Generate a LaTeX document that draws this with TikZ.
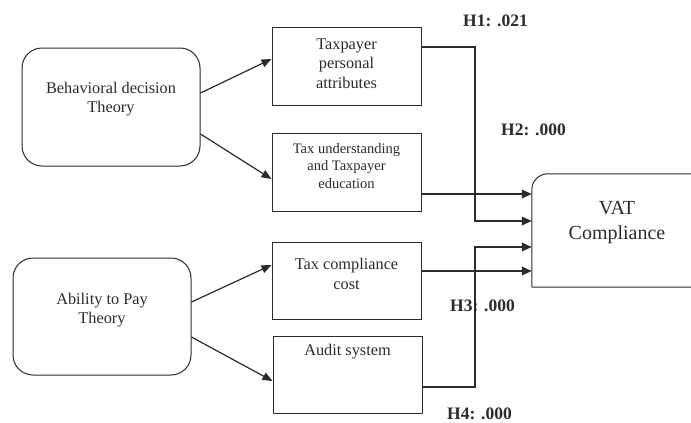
\documentclass[tikz,border=0pt]{standalone}
\usepackage{fontspec}
\setmainfont{Liberation Serif}
\usetikzlibrary{arrows.meta}
\definecolor{ink}{HTML}{2B2B2B}
\tikzset{
  boxline/.style={draw=ink, line width=1pt},
  theorybox/.style={boxline, rounded corners=20pt, inner sep=0pt},
  varbox/.style={boxline, inner sep=0pt},
  txt/.style={align=center, inner sep=0pt, text=ink, font=\fontsize{16.3}{19.5}\selectfont},
  smalltxt/.style={align=center, inner sep=0pt, text=ink, font=\fontsize{14.5}{17.5}\selectfont},
  vattxt/.style={align=center, inner sep=0pt, text=ink, font=\fontsize{20}{25}\selectfont},
  hlab/.style={inner sep=0pt, text=ink, font=\bfseries\fontsize{17.5}{20}\selectfont},
  tharrow/.style={draw=ink, line width=1.2pt, -{Triangle[length=10pt,width=8pt]}},
  harrow/.style={draw=ink, line width=2pt, -{Triangle[length=10pt,width=8.5pt]}},
}
\begin{document}
\begin{tikzpicture}[x=1pt,y=-1pt]
\useasboundingbox (0,0) rectangle (691,423);
% theory boxes
\node[theorybox, minimum width=178pt, minimum height=118pt] (beh) at (111,107) {};
\node[txt] (behT) at (111,99) {Behavioral decision\\Theory};
\node[theorybox, minimum width=178pt, minimum height=117pt] (abl) at (102,316.5) {};
\node[txt] (ablT) at (102,310) {Ability to Pay\\Theory};
% variable boxes
\node[varbox, minimum width=149pt, minimum height=78pt] (tpa) at (346.5,66) {};
\node[txt] (tpaT) at (346.5,63.5) {Taxpayer\\personal\\attributes};
\node[varbox, minimum width=149pt, minimum height=78pt] (tue) at (346.5,172) {};
\node[smalltxt] (tueT) at (346.5,166) {Tax understanding\\and Taxpayer\\education};
\node[varbox, minimum width=149pt, minimum height=77pt] (tcc) at (346.5,280.5) {};
\node[txt] (tccT) at (346.5,274) {Tax compliance\\cost};
\node[varbox, minimum width=149pt, minimum height=77pt] (aud) at (347.5,374.5) {};
\node[txt] (audT) at (347.5,352) {Audit system};
% VAT compliance box
\node[inner sep=0pt, minimum width=173pt, minimum height=113pt] (vat) at (618.5,230.5) {};
\draw[boxline] (vat.south west) [rounded corners=16pt] -- (vat.north west) -- (vat.north east) -- (vat.south east) -- (vat.south west);
\node[vattxt] (vatT) at (617,223) {VAT\\Compliance};
% theory arrows
\draw[tharrow] ([yshift=14pt]beh.east) -- ([yshift=7pt]tpa.west);
\draw[tharrow] ([yshift=-27pt]beh.east) -- ([yshift=-7pt]tue.west);
\draw[tharrow] ([yshift=14.5pt]abl.east) -- ([yshift=15.5pt]tcc.west);
\draw[tharrow] ([yshift=-20.5pt]abl.east) -- ([yshift=-6.5pt]aud.west);
% hypothesis connectors
\draw[harrow] ([yshift=19pt]tpa.east) -- ++(53,0) |- ([yshift=9.5pt]vat.west);
\draw[harrow] ([yshift=-22pt]tue.east) -- ([yshift=36.5pt]vat.west);
\draw[harrow] ([yshift=9.5pt]tcc.east) -- ([yshift=-40.5pt]vat.west);
\draw[harrow] ([yshift=-12.5pt]aud.east) -- ++(52,0) |- ([yshift=-16.5pt]vat.west);
% labels
\node[hlab] (h1) at (495.5,21) {H1: .021};
\node[hlab] (h2) at (533.5,130) {H2: .000};
\node[hlab] (h3) at (482.5,306) {H3: .000};
\node[hlab] (h4) at (479.5,414) {H4: .000};
\end{tikzpicture}
\end{document}
